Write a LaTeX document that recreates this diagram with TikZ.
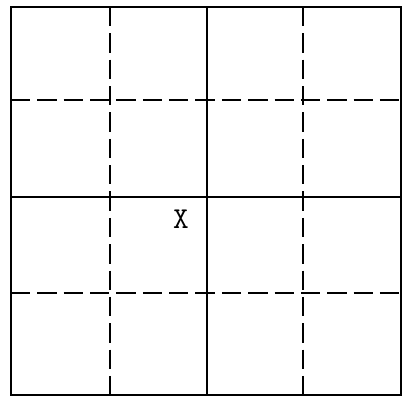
\documentclass[tikz,border=0pt]{standalone}
\usepackage{tikz}
\usetikzlibrary{positioning}

\begin{document}
\begin{tikzpicture}[
    x=0.02cm, y=-0.02cm,
    frame/.style={draw, line width=1.7pt},
    solidline/.style={draw, line width=1pt},
    dashline/.style={draw, line width=1pt, dash pattern=on 11pt off 4pt},
  ]
    \useasboundingbox (0,0) rectangle (404,406);

    % outer frame
    \draw[frame] (11,7) rectangle (401,395);

    % dashed grid lines
    \draw[dashline] (110,7)  -- (110,395);
    \draw[dashline] (303,7)  -- (303,395);
    \draw[dashline] (11,100) -- (401,100);
    \draw[dashline] (11,293) -- (401,293);

    % solid middle lines
    \draw[solidline] (207,7)  -- (207,395);
    \draw[solidline] (11,197) -- (401,197);

    \node[font=\LARGE\ttfamily] (mark) at (181,219) {X};
  \end{tikzpicture}
\end{document}
